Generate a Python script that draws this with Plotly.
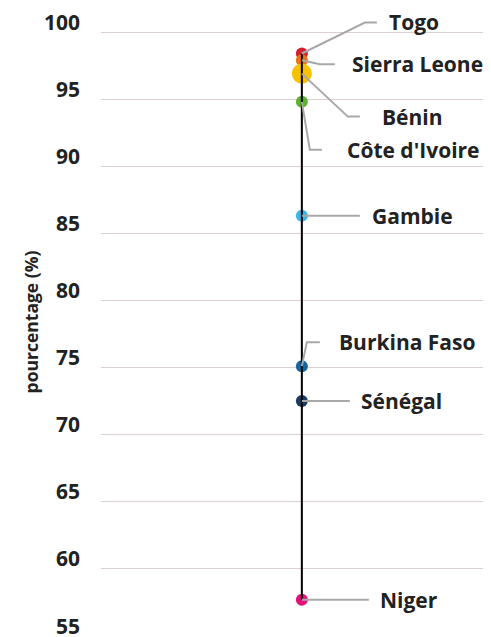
import plotly.graph_objects as go

countries = ["Togo", "Sierra Leone", "Bénin", "Côte d'Ivoire", "Gambie",
             "Burkina Faso", "Sénégal", "Niger"]
values = [98.4, 97.9, 96.9, 94.8, 86.3, 75.1, 72.5, 57.7]
colors = ["#d2202e", "#f0701e", "#f7c100", "#5fb033", "#3db5e6",
          "#17679f", "#1b3c5e", "#e2117b"]
sizes = [12, 12, 20, 12, 12, 12, 12, 12]
# leader geometry in pixels relative to the dot: elbow (dx, dy), end dx, text dx
elbow_dx = [63, 18, 46, 8, 0, 5, 0, 0]
elbow_dy = [-31, 4, 43, 48, 0, -24, 0, 0]
end_dx = [75, 33, 58, 20, 58, 18, 48, 67]
text_dx = [85, 48, 78, 43, 68, 35, 57, 76]

tick_vals = [55, 60, 65, 70, 75, 80, 85, 90, 95, 100]

FONT = "Open Sans"
W, H = 483, 629
ml, mr, mt, mb = 93, 0, 0, 1
xr = [-1, 0.9417]
yr = [54.99, 101.79]
pw, ph = W - ml - mr, H - mt - mb
xpx = pw / (xr[1] - xr[0])
ypx = ph / (yr[1] - yr[0])

fig = go.Figure()
fig.add_trace(go.Scatter(x=[0] * len(values), y=values, mode="markers",
                         marker=dict(color=colors, size=sizes, opacity=1, line=dict(width=0)),
                         hoverinfo="text", text=countries, showlegend=False))
fig.add_trace(go.Scatter(x=[0, 0], y=[max(values), min(values)], mode="lines",
                         line=dict(color="black", width=2), hoverinfo="skip",
                         showlegend=False))

for i, (c, v) in enumerate(zip(countries, values)):
    ex = elbow_dx[i] / xpx
    ey = v - elbow_dy[i] / ypx
    fig.add_trace(go.Scatter(x=[0, ex, end_dx[i] / xpx], y=[v, ey, ey], mode="lines",
                             line=dict(color="#a8a8a8", width=2), hoverinfo="skip",
                             showlegend=False))
    fig.add_annotation(x=text_dx[i] / xpx, y=ey, text=c, showarrow=False,
                       xanchor="left", yanchor="middle",
                       font=dict(family=FONT, size=21, color="#222222", weight="bold"))

fig.update_layout(
    width=W, height=H,
    margin=dict(l=ml, r=mr, t=mt, b=mb, autoexpand=False),
    plot_bgcolor="white", paper_bgcolor="white",
    xaxis=dict(range=xr, visible=False, showgrid=False, zeroline=False),
    yaxis=dict(range=yr, tickvals=tick_vals, gridcolor="#dccfcf", gridwidth=1,
               zeroline=False, showline=False, ticks="",
               ticklabelposition="outside top", ticklabeloverflow="allow",
               ticklabelstandoff=20, ticklabelshift=5,
               tickfont=dict(family=FONT, size=21, color="#222222", weight="bold"),
               title=dict(text="pourcentage (%)", standoff=0,
                          font=dict(family=FONT, size=17.5, color="#222222", weight="bold"))),
)

fig.write_html("out.html")
